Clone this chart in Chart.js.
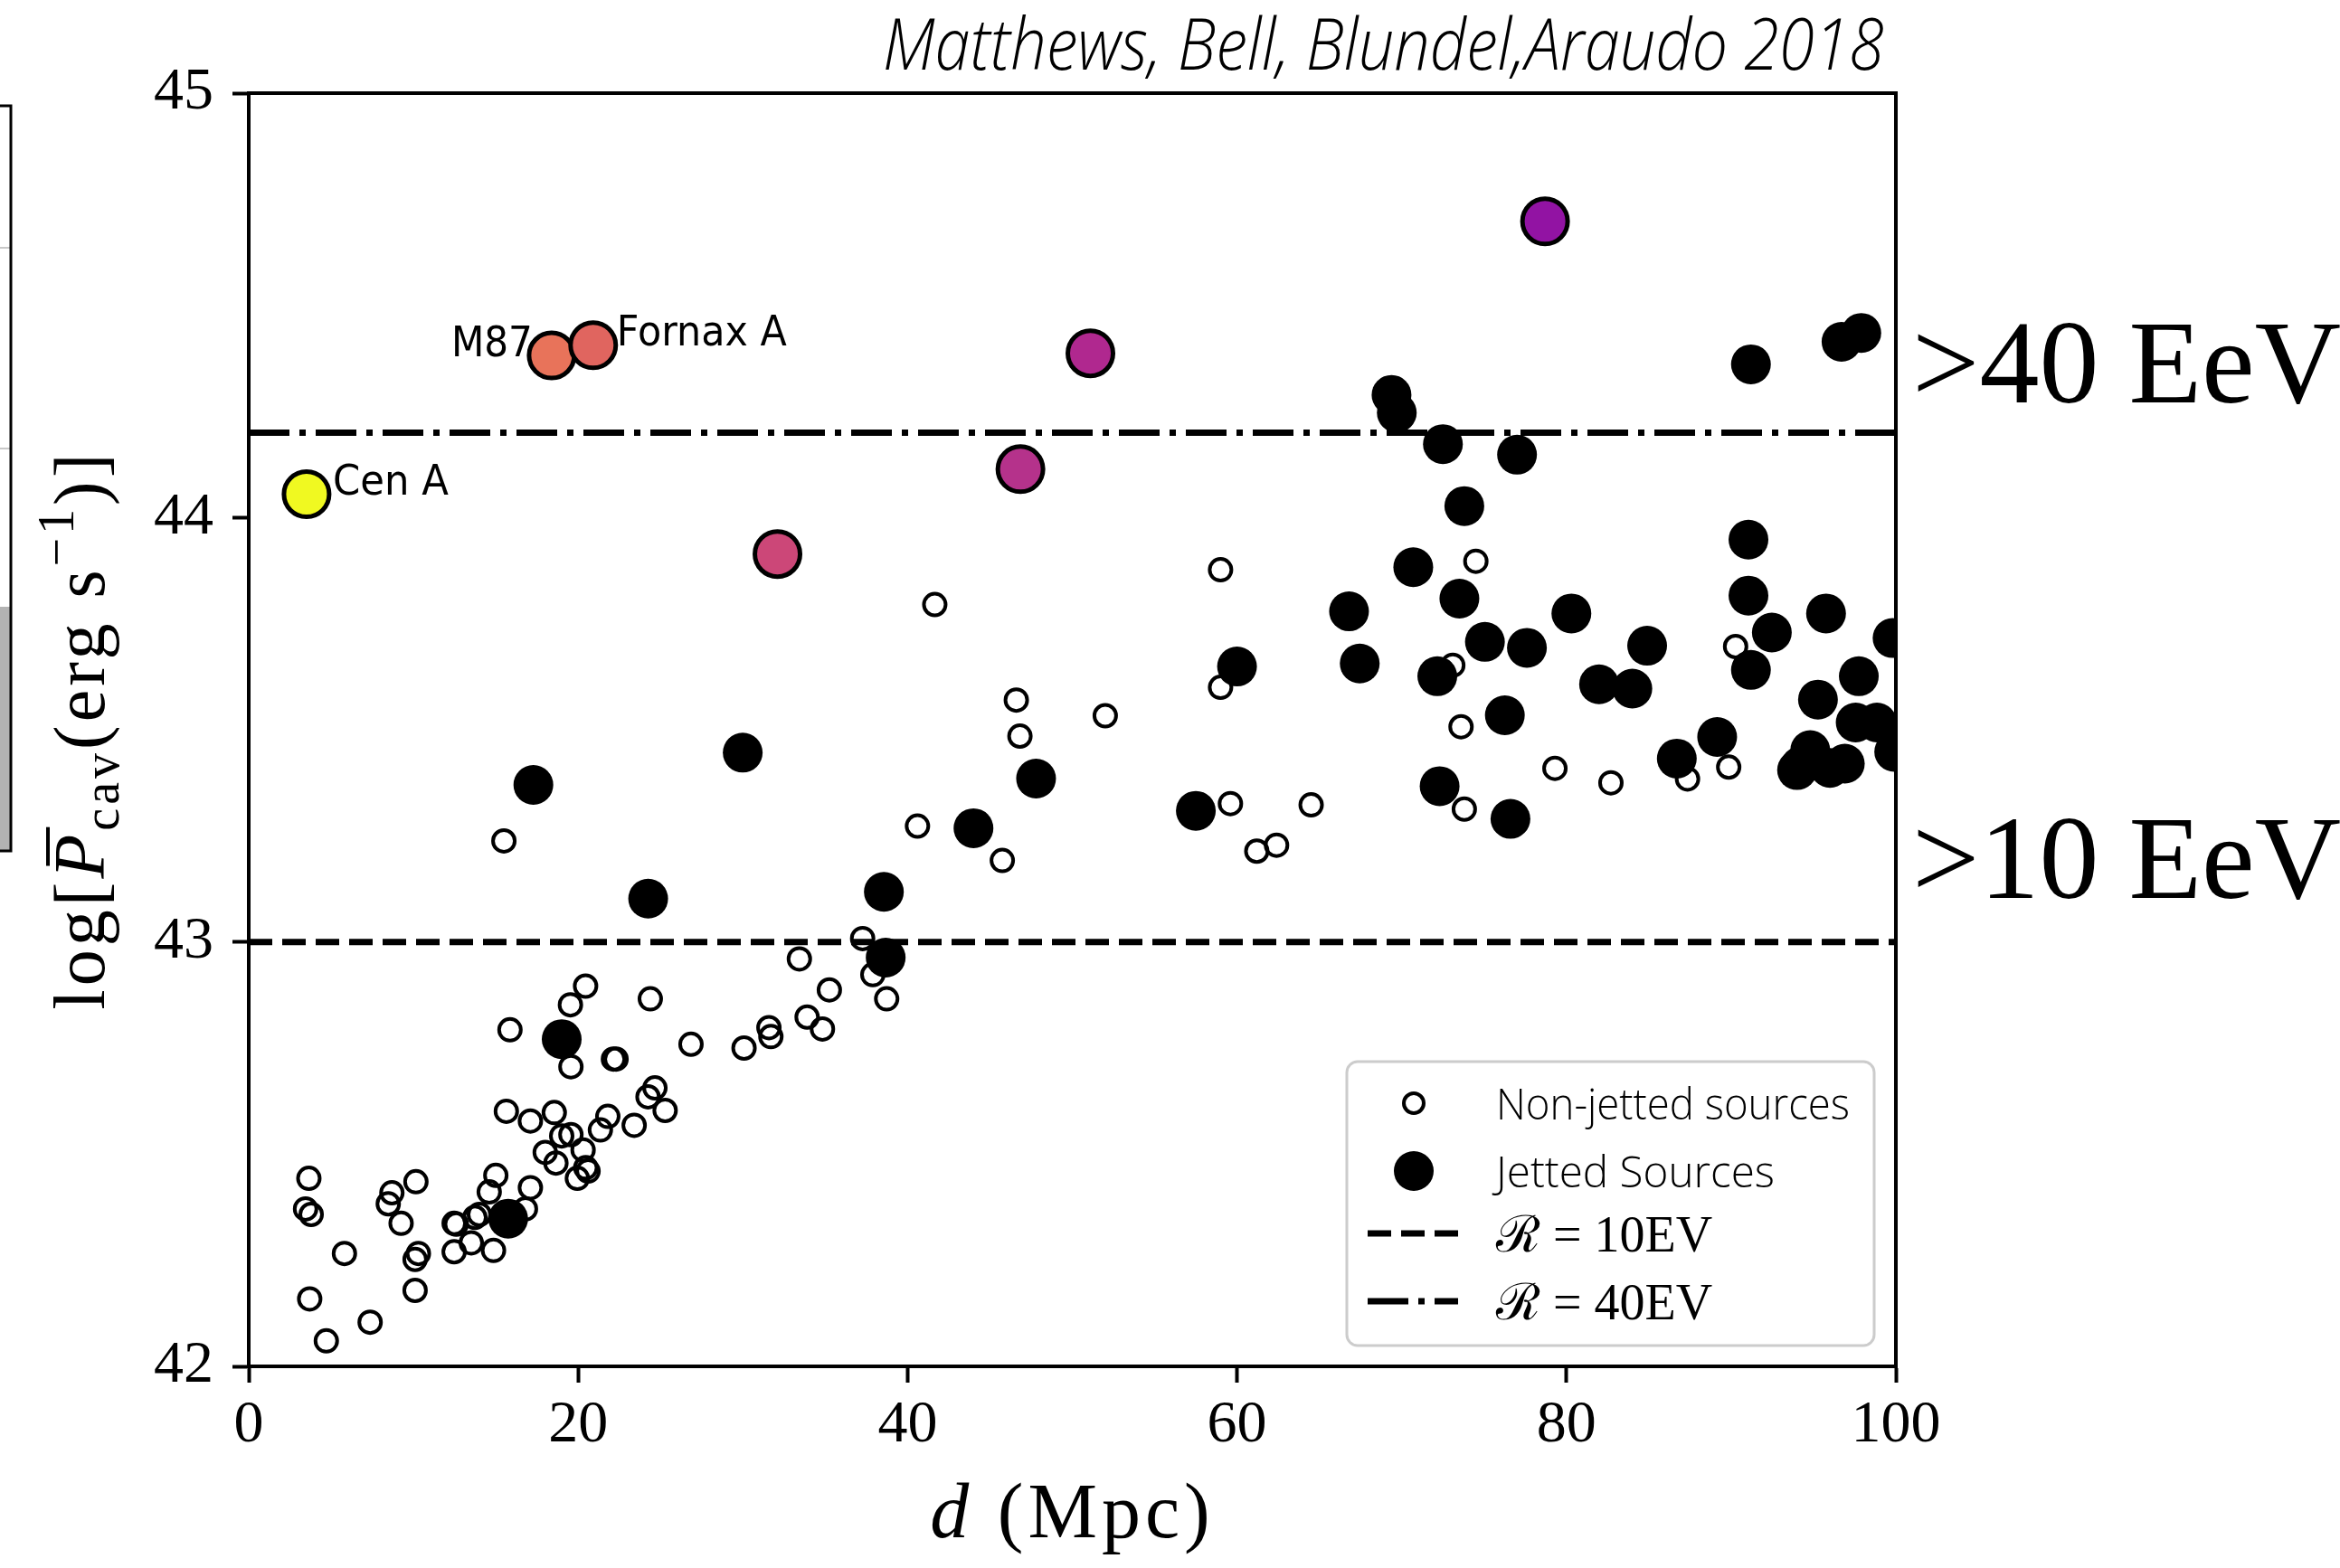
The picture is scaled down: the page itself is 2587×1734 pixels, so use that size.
<!DOCTYPE html>
<html>
<head>
<meta charset="utf-8">
<script src="https://cdn.jsdelivr.net/npm/chart.js@4.4.1/dist/chart.umd.min.js"></script>
<style>
  html, body { margin: 0; padding: 0; background: #fff; overflow: hidden; }
  #wrap { width: 2587px; height: 1734px; }
</style>
</head>
<body>
<div id="wrap"><canvas id="cavChart" width="2587" height="1734"></canvas></div>
<script>
// distances (Mpc) and log cavity powers
const nonJettedD = [
  3.65, 3.45, 3.79, 3.70, 4.71, 5.81, 7.37, 8.69, 8.47, 9.25,
  10.15, 10.3, 10.1, 10.1, 12.47, 12.6, 13.73, 14.0, 12.47, 13.51,
  14.86, 15.0, 14.6, 17.1, 16.8, 15.64, 17.1, 18.55, 18.0, 18.65,
  19.0, 19.56, 20.3, 19.95, 20.46, 20.6, 21.35, 21.8, 23.4, 24.24,
  24.66, 25.28, 15.86, 19.53, 20.45, 19.56, 22.14, 22.3, 24.38, 26.85,
  30.07, 31.58, 31.7, 33.9, 34.83, 35.25, 33.43, 37.27, 37.89, 38.73,
  15.49, 41.65, 46.6, 46.82, 40.6, 45.75, 52.0, 59.0, 59.0, 59.6,
  61.2, 62.4, 64.5, 74.5, 73.1, 73.6, 73.8, 79.3, 82.7, 87.35,
  89.85, 90.27
];
const nonJettedP = [
  42.443, 42.371, 42.358, 42.159, 42.060, 42.266, 42.104, 42.409, 42.383, 42.337,
  42.435, 42.266, 42.252, 42.179, 42.337, 42.335, 42.351, 42.358, 42.270, 42.291,
  42.273, 42.450, 42.411, 42.421, 42.371, 42.601, 42.578, 42.598, 42.504, 42.479,
  42.543, 42.546, 42.510, 42.443, 42.468, 42.460, 42.557, 42.589, 42.568, 42.635,
  42.656, 42.603, 42.793, 42.852, 42.896, 42.706, 42.724, 42.724, 42.866, 42.759,
  42.750, 42.798, 42.777, 42.823, 42.795, 42.887, 42.960, 43.008, 42.923, 42.866,
  43.238, 43.795, 43.570, 43.485, 43.273, 43.192, 43.533, 43.877, 43.600, 43.326,
  43.214, 43.228, 43.323, 43.897, 43.652, 43.507, 43.313, 43.409, 43.375, 43.384,
  43.412, 43.696
];

const jettedD = [
  17.28, 24.25, 29.99, 19.0, 15.75, 38.56, 38.67, 44.0, 47.8, 57.5, 60.0,
  66.8, 67.45, 69.38, 69.7, 70.7, 72.5, 72.16, 72.3, 73.5, 73.8,
  75.05, 76.26, 76.6, 77.0, 77.6, 80.3, 81.98, 84.0, 84.9, 86.7, 89.15,
  91.2, 91.05, 91.05, 91.2, 92.47, 94.0, 94.2, 94.8, 95.27, 95.76,
  96.0, 96.9, 96.7, 97.9, 97.75, 97.56, 98.85, 99.8, 99.9
];
const jettedP = [
  43.370, 43.102, 43.446, 42.771, 42.348, 43.118, 42.963, 43.268, 43.385, 43.309, 43.649,
  43.779, 43.656, 44.289, 44.247, 43.883, 44.173, 43.626, 43.367, 43.809, 44.027,
  43.707, 43.534, 43.290, 44.148, 43.693, 43.774, 43.607, 43.597, 43.698, 43.432, 43.483,
  44.361, 43.948, 43.816, 43.641, 43.729, 43.405, 43.414, 43.452, 43.571, 43.774,
  43.410, 43.420, 44.414, 44.435, 43.626, 43.517, 43.517, 43.716, 43.448
];

// the coloured (named / nearby) sources
const namedD = [3.51, 18.39, 20.91, 32.1, 46.85, 51.1, 78.7];
const namedP = [44.055, 44.382, 44.406, 43.914, 44.114, 44.387, 44.698];
const namedLabels = ["Cen A", "M87", "Fornax A", "", "", "", ""];
const namedColours = ["#f0f921", "#e8735a", "#e0655f", "#cc4778", "#b5328b", "#b0288f", "#9213a3"];

// rigidity thresholds
const thresholdNames = ["R10", "R40"];
const thresholdLevels = [43.0, 44.2];
const thresholdLegend = ["\u211B = 10EV", "\u211B = 40EV"];
const sideLabels = [">40 EeV", ">10 EeV"];

const xTicks = [0, 20, 40, 60, 80, 100];
const yTicks = [42, 43, 44, 45];

const SERIF = '"Liberation Serif", "Times New Roman", serif';
const SANS = '"DejaVu Sans", "Noto Sans", sans-serif';

const toPoints = (xs, ys) => xs.map((x, i) => ({ x: x, y: ys[i] }));
const hLine = (level) => [{ x: xTicks[0], y: level }, { x: xTicks[xTicks.length - 1], y: level }];

function drawYTitle(ctx, cx, cy) {
  const big = 80, small = 56;
  const parts = [
    { t: "log[", f: `${big}px ${SERIF}`, dy: 0 },
    { t: "P", f: `italic ${big}px ${SERIF}`, dy: 0, bar: true },
    { t: "cav", f: `${small}px ${SERIF}`, dy: 16 },
    { t: "(erg s", f: `${big}px ${SERIF}`, dy: 0 },
    { t: "\u22121", f: `${small}px ${SERIF}`, dy: -34 },
    { t: ")]", f: `${big}px ${SERIF}`, dy: 0 },
  ];
  ctx.save();
  ctx.translate(cx, cy);
  ctx.rotate(-Math.PI / 2);
  ctx.fillStyle = "#000";
  ctx.textBaseline = "alphabetic";
  ctx.textAlign = "left";
  if ("letterSpacing" in ctx) ctx.letterSpacing = "4px";
  let total = 0;
  parts.forEach((p) => { ctx.font = p.f; p.w = ctx.measureText(p.t).width; total += p.w; });
  let x = -total / 2;
  parts.forEach((p) => {
    ctx.font = p.f;
    ctx.fillText(p.t, x, p.dy);
    if (p.bar) {
      ctx.fillRect(x + 14, -big * 0.8, p.w - 10, 4);
    }
    x += p.w;
  });
  ctx.restore();
}

function drawXTitle(ctx, cx, baseY) {
  const size = 86;
  ctx.save();
  ctx.fillStyle = "#000";
  ctx.textBaseline = "alphabetic";
  ctx.textAlign = "left";
  if ("letterSpacing" in ctx) ctx.letterSpacing = "5px";
  ctx.font = `italic ${size}px ${SERIF}`;
  const w1 = ctx.measureText("d").width;
  ctx.font = `${size}px ${SERIF}`;
  const w2 = ctx.measureText(" (Mpc)").width;
  let x = cx - (w1 + w2) / 2;
  ctx.font = `italic ${size}px ${SERIF}`;
  ctx.fillText("d", x, baseY);
  ctx.font = `${size}px ${SERIF}`;
  ctx.fillText(" (Mpc)", x + w1, baseY);
  ctx.restore();
}

function drawLegend(ctx) {
  const L = 1489, T = 1174, W = 583, H = 314;
  ctx.save();
  ctx.beginPath();
  ctx.roundRect(L, T, W, H, 12);
  ctx.fillStyle = "rgba(255,255,255,0.85)";
  ctx.fill();
  ctx.lineWidth = 3;
  ctx.strokeStyle = "#cccccc";
  ctx.stroke();

  const mx = 1563, tx = 1654;
  const rows = [1220, 1295, 1364, 1439];
  // open marker
  ctx.beginPath();
  ctx.arc(mx, rows[0], 11, 0, Math.PI * 2);
  ctx.lineWidth = 4;
  ctx.strokeStyle = "#000";
  ctx.stroke();
  // filled marker
  ctx.beginPath();
  ctx.arc(mx, rows[1], 22, 0, Math.PI * 2);
  ctx.fillStyle = "#000";
  ctx.fill();
  // line samples
  ctx.lineWidth = 7;
  ctx.setLineDash([26, 11]);
  ctx.beginPath(); ctx.moveTo(1512, rows[2]); ctx.lineTo(1612, rows[2]); ctx.stroke();
  ctx.setLineDash([45, 11, 7, 11]);
  ctx.beginPath(); ctx.moveTo(1512, rows[3]); ctx.lineTo(1612, rows[3]); ctx.stroke();
  ctx.setLineDash([]);

  ctx.fillStyle = "#000";
  ctx.textBaseline = "alphabetic";
  ctx.textAlign = "left";
  ctx.font = `300 48px "Open Sans", ${SANS}`;
  ctx.fillText("Non-jetted sources", tx, rows[0] + 18, 391);
  ctx.fillText("Jetted Sources", tx, rows[1] + 18, 308);
  ctx.font = `56px ${SERIF}`;
  ctx.fillText(thresholdLegend[0], tx, rows[2] + 20, 240);
  ctx.fillText(thresholdLegend[1], tx, rows[3] + 20, 240);
  ctx.restore();
}

const figureDecor = {
  id: "figureDecor",
  beforeDraw(chart) {
    const ctx = chart.ctx;
    ctx.save();
    ctx.fillStyle = "#fff";
    ctx.fillRect(0, 0, chart.width, chart.height);
    // edge of the neighbouring panel, cut off at the left
    ctx.fillStyle = "#b3b3b3";
    ctx.fillRect(0, 671, 11, 270);
    ctx.strokeStyle = "#c8c8c8";
    ctx.lineWidth = 2;
    [274, 496].forEach((y) => { ctx.beginPath(); ctx.moveTo(0, y); ctx.lineTo(11, y); ctx.stroke(); });
    ctx.strokeStyle = "#000";
    ctx.lineWidth = 3;
    ctx.beginPath();
    ctx.moveTo(0, 117); ctx.lineTo(12, 117); ctx.lineTo(12, 941); ctx.lineTo(0, 941);
    ctx.stroke();
    ctx.restore();
  },
  afterDatasetsDraw(chart) {
    const ctx = chart.ctx;
    const a = chart.chartArea;
    const xs = chart.scales.x, ys = chart.scales.y;
    ctx.save();
    ctx.strokeStyle = "#000";
    ctx.lineWidth = 4;
    ctx.strokeRect(a.left, a.top, a.right - a.left, a.bottom - a.top);

    // source names next to their markers
    ctx.fillStyle = "#000";
    ctx.font = `46px ${SANS}`;
    ctx.textBaseline = "alphabetic";
    namedLabels.forEach((name, i) => {
      if (!name) return;
      const px = xs.getPixelForValue(namedD[i]);
      const py = ys.getPixelForValue(namedP[i]);
      if (name === "M87") {
        ctx.textAlign = "right";
        ctx.fillText(name, px - 21, py + 1, 90);
      } else {
        ctx.textAlign = "left";
        const w = name === "Cen A" ? 128 : 188;
        ctx.fillText(name, px + (name === "Cen A" ? 29 : 26), py, w);
      }
    });
    ctx.restore();
    drawLegend(ctx);
  },
  afterDraw(chart) {
    const ctx = chart.ctx;
    const a = chart.chartArea;
    const ys = chart.scales.y;
    ctx.save();
    ctx.fillStyle = "#000";
    ctx.textBaseline = "alphabetic";
    ctx.textAlign = "left";
    ctx.font = `italic 300 80px "Open Sans", ${SANS}`;
    ctx.fillText("Matthews, Bell, Blundel,Araudo 2018", 976, 77, 1107);

    ctx.font = `132px ${SERIF}`;
    ctx.fillText(sideLabels[0], 2114, ys.getPixelForValue(thresholdLevels[1]) - 33);
    ctx.fillText(sideLabels[1], 2114, ys.getPixelForValue(thresholdLevels[0]) - 49);
    ctx.restore();

    drawXTitle(ctx, (a.left + a.right) / 2, 1700);
    drawYTitle(ctx, 115, (a.top + a.bottom) / 2);
  },
};

const axisCommon = {
  type: "linear",
  grid: {
    drawOnChartArea: false,
    drawTicks: true,
    tickLength: 18,
    tickWidth: 4,
    tickColor: "#000",
  },
  border: { display: true, color: "#000", width: 4 },
};

new Chart(document.getElementById("cavChart"), {
  type: "scatter",
  data: {
    datasets: [
      {
        label: "Named sources",
        data: toPoints(namedD, namedP),
        backgroundColor: namedColours,
        borderColor: "#000",
        borderWidth: 5,
        pointRadius: 25,
        clip: 0,
      },
      {
        label: "Jetted Sources",
        data: toPoints(jettedD, jettedP),
        backgroundColor: "#000",
        borderColor: "#000",
        borderWidth: 0,
        pointRadius: 22,
        clip: 0,
      },
      {
        label: "Non-jetted sources",
        data: toPoints(nonJettedD, nonJettedP),
        backgroundColor: "rgba(0,0,0,0)",
        borderColor: "#000",
        borderWidth: 4,
        pointRadius: 12,
        clip: 0,
      },
      {
        label: thresholdNames[1],
        data: hLine(thresholdLevels[1]),
        showLine: true,
        borderColor: "#000",
        borderWidth: 7,
        borderDash: [45, 11, 7, 11],
        pointRadius: 0,
        clip: 0,
      },
      {
        label: thresholdNames[0],
        data: hLine(thresholdLevels[0]),
        showLine: true,
        borderColor: "#000",
        borderWidth: 7,
        borderDash: [26, 11],
        pointRadius: 0,
        clip: 0,
      },
    ],
  },
  options: {
    responsive: false,
    animation: false,
    devicePixelRatio: 1,
    layout: { padding: { left: 0, top: 103, right: 491, bottom: 0 } },
    plugins: { legend: { display: false }, tooltip: { enabled: false } },
    scales: {
      x: {
        ...axisCommon,
        min: xTicks[0],
        max: xTicks[xTicks.length - 1],
        afterBuildTicks: (s) => { s.ticks = xTicks.map((v) => ({ value: v })); },
        afterFit: (s) => { s.height = 223; },
        ticks: {
          color: "#000",
          font: { family: SERIF, size: 66 },
          padding: 8,
          maxRotation: 0,
        },
      },
      y: {
        ...axisCommon,
        min: yTicks[0],
        max: yTicks[yTicks.length - 1],
        afterBuildTicks: (s) => { s.ticks = yTicks.map((v) => ({ value: v })); },
        afterFit: (s) => { s.width = 275; },
        ticks: {
          color: "#000",
          font: { family: SERIF, size: 66 },
          padding: 21,
        },
      },
    },
  },
  plugins: [figureDecor],
});
</script>
</body>
</html>
